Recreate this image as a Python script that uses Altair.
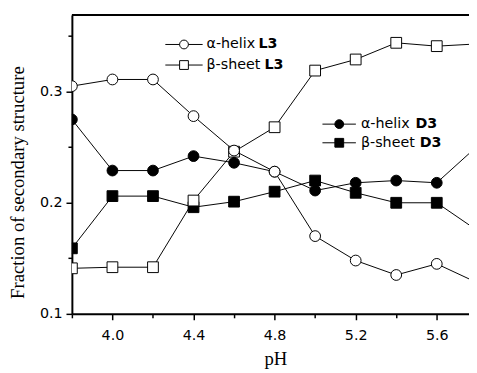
import altair as alt
import pandas as pd

# ---- data ----
ph = [3.8, 4.0, 4.2, 4.4, 4.6, 4.8, 5.0, 5.2, 5.4, 5.6, 5.8]
helix_L3 = [0.305, 0.311, 0.311, 0.278, 0.247, 0.228, 0.170, 0.148, 0.135, 0.145, 0.128]
sheet_L3 = [0.141, 0.142, 0.142, 0.202, 0.246, 0.268, 0.319, 0.329, 0.344, 0.341, 0.343]
helix_D3 = [0.275, 0.229, 0.229, 0.242, 0.236, 0.228, 0.211, 0.218, 0.220, 0.218, 0.251]
sheet_D3 = [0.159, 0.206, 0.206, 0.196, 0.201, 0.210, 0.220, 0.209, 0.200, 0.200, 0.175]

series_names = ["β-sheet D3", "α-helix D3", "β-sheet L3", "α-helix L3"]
series_vals = [sheet_D3, helix_D3, sheet_L3, helix_L3]
series_shape = ["square", "circle", "square", "circle"]
series_fill = ["black", "black", "white", "white"]

x_ticks = [3.8, 4.0, 4.2, 4.4, 4.6, 4.8, 5.0, 5.2, 5.4, 5.6]
y_ticks = [0.1, 0.15, 0.2, 0.25, 0.3, 0.35]

rows = []
for name, vals in zip(series_names, series_vals):
    for p, v in zip(ph, vals):
        rows.append({"pH": p, "value": v, "series": name})
df = pd.DataFrame(rows)

# legend layout (two small in-plot legends), in data units
leg_base = ["α-helix", "β-sheet", "α-helix", "β-sheet"]
leg_bold = ["L3", "L3", "D3", "D3"]
leg_series = ["α-helix L3", "β-sheet L3", "α-helix D3", "β-sheet D3"]
leg_x0 = [4.261, 4.261, 5.036, 5.036]
leg_x1 = [4.445, 4.445, 5.201, 5.201]
leg_xc = [4.353, 4.353, 5.119, 5.119]
leg_xt = [4.464, 4.464, 5.226, 5.226]
leg_xb = [4.720, 4.750, 5.495, 5.516]
leg_y = [0.3425, 0.324, 0.2708, 0.254]
leg = pd.DataFrame({"base": leg_base, "bold": leg_bold, "series": leg_series,
                    "x0": leg_x0, "x1": leg_x1, "xc": leg_xc, "xt": leg_xt,
                    "xb": leg_xb, "y": leg_y})

W, H = 404, 304
xdom = [3.8, 5.759]
ydom = [0.1, 0.369]

xscale = alt.Scale(domain=xdom, nice=False, zero=False)
yscale = alt.Scale(domain=ydom, nice=False, zero=False)
shape_scale = alt.Scale(domain=series_names, range=series_shape)
fill_scale = alt.Scale(domain=series_names, range=series_fill)

x_major = "abs((datum.value-4.0)/0.4 - round((datum.value-4.0)/0.4)) < 0.01"
y_major = "abs(datum.value*10 - round(datum.value*10)) < 0.01"

xaxis = alt.Axis(values=x_ticks, labelExpr=f"({x_major}) ? format(datum.value, '.1f') : ''",
                 tickSize={"condition": {"test": x_major, "value": 6}, "value": 4},
                 title="pH", titleFont="Liberation Serif", titleFontSize=19,
                 titleFontWeight="normal", titleColor="black", titleX=207, titlePadding=8,
                 labelFont="DejaVu Sans", labelFontSize=14.5, labelColor="black",
                 labelPadding=9, domainColor="black", domainWidth=2, tickColor="black",
                 tickWidth=1.5, grid=False, labelFlush=False)
yaxis = alt.Axis(values=y_ticks, labelExpr=f"({y_major}) ? format(datum.value, '.1f') : ''",
                 tickSize={"condition": {"test": y_major, "value": 6}, "value": 4},
                 title="Fraction of secondary structure", titleFont="Liberation Serif",
                 titleFontSize=19, titleFontWeight="normal", titleColor="black",
                 titlePadding=12, titleY=170,
                 labelFont="DejaVu Sans", labelFontSize=14.5, labelColor="black",
                 labelPadding=4, domainColor="black", domainWidth=2, tickColor="black",
                 tickWidth=1.5, grid=False, labelFlush=False)

base = alt.Chart(df)
lines = base.mark_line(color="black", strokeWidth=1, clip=True).encode(
    x=alt.X("pH:Q", scale=xscale, axis=xaxis),
    y=alt.Y("value:Q", scale=yscale, axis=yaxis),
    detail="series:N",
)
points = base.mark_point(stroke="black", strokeWidth=1, opacity=1, size=120,
                         filled=False, clip=True).encode(
    x=alt.X("pH:Q", scale=xscale),
    y=alt.Y("value:Q", scale=yscale),
    shape=alt.Shape("series:N", scale=shape_scale, legend=None),
    fill=alt.Fill("series:N", scale=fill_scale, legend=None),
)

top_border = alt.Chart(pd.DataFrame({"k": [0]})).mark_rule(color="black", strokeWidth=2).encode(
    x=alt.value(0), x2=alt.value(W), y=alt.value(0))

lb = alt.Chart(leg)
leg_lines = lb.mark_rule(color="black", strokeWidth=1).encode(
    x=alt.X("x0:Q", scale=xscale), x2="x1:Q", y=alt.Y("y:Q", scale=yscale))
leg_pts = lb.mark_point(stroke="black", strokeWidth=1, opacity=1, size=80, filled=False).encode(
    x=alt.X("xc:Q", scale=xscale), y=alt.Y("y:Q", scale=yscale),
    shape=alt.Shape("series:N", scale=shape_scale, legend=None),
    fill=alt.Fill("series:N", scale=fill_scale, legend=None))
leg_txt = lb.mark_text(align="left", baseline="middle", font="DejaVu Sans",
                       fontSize=14.5, color="black").encode(
    x=alt.X("xt:Q", scale=xscale), y=alt.Y("y:Q", scale=yscale), text="base:N")
leg_bold_txt = lb.mark_text(align="left", baseline="middle", font="DejaVu Sans",
                            fontSize=14.5, fontWeight="bold", color="black").encode(
    x=alt.X("xb:Q", scale=xscale), y=alt.Y("y:Q", scale=yscale), text="bold:N")

chart = alt.layer(lines, points, top_border, leg_lines, leg_pts, leg_txt, leg_bold_txt).properties(
    width=W, height=H,
    autosize=alt.AutoSizeParams(type="none"),
    padding={"left": 65, "top": 4, "right": 0, "bottom": 57},
).configure_view(stroke=None).configure(background="white")

chart.save("out.html", embed_options={"renderer": "svg", "actions": False})
